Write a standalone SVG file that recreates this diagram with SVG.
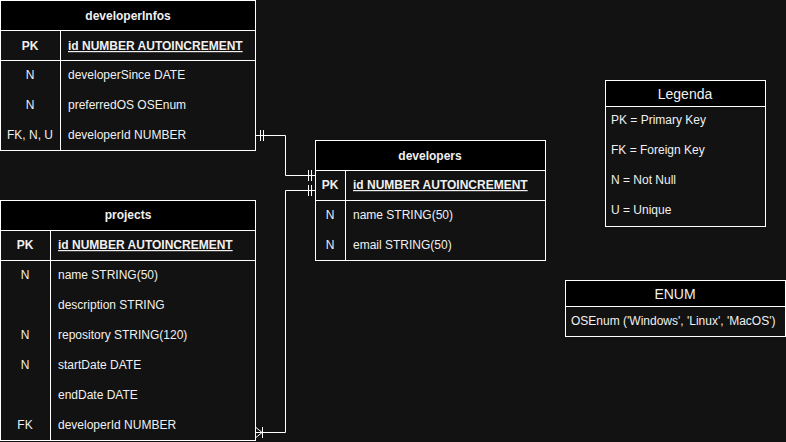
<svg xmlns="http://www.w3.org/2000/svg" width="786" height="442" viewBox="0 0 786 442">
<style>
.box{fill:#121212;stroke:#ffffff;stroke-width:1}
.hdr{fill:#000000;stroke:#ffffff;stroke-width:1}
.ln{stroke:#ffffff;stroke-width:1;fill:none}
.t{font-family:"Liberation Sans",Arial,sans-serif;font-size:12px;fill:#f0f0f0}
.b{font-weight:bold}
.c{text-anchor:middle}
.h{font-family:"Liberation Sans",Arial,sans-serif;font-size:14px;fill:#f0f0f0;text-anchor:middle}
.u{text-decoration:underline}
.con{stroke:#ffffff;stroke-width:1;fill:none}
</style>
<rect width="786" height="442" fill="#121212"/>

<g id="developerInfos">
<rect class="box" x="0.5" y="0.5" width="255" height="150"/>
<rect class="hdr" x="0.5" y="0.5" width="255" height="30"/>
<line class="ln" x1="0.5" y1="60.5" x2="255.5" y2="60.5"/>
<line class="ln" x1="60.5" y1="30.5" x2="60.5" y2="150.5"/>
<text class="t b c" x="128" y="20">developerInfos</text>
<text class="t b c" x="30" y="50">PK</text>
<text class="t b u" x="68" y="50">id NUMBER AUTOINCREMENT</text>
<text class="t c" x="30" y="79">N</text>
<text class="t" x="68" y="79">developerSince DATE</text>
<text class="t c" x="30" y="109">N</text>
<text class="t" x="68" y="109">preferredOS OSEnum</text>
<text class="t c" x="30" y="139">FK, N, U</text>
<text class="t" x="68" y="139">developerId NUMBER</text>
</g>

<g id="developers">
<rect class="box" x="315.5" y="140.5" width="230" height="120"/>
<rect class="hdr" x="315.5" y="140.5" width="230" height="30"/>
<line class="ln" x1="315.5" y1="200.5" x2="545.5" y2="200.5"/>
<line class="ln" x1="345.5" y1="170.5" x2="345.5" y2="260.5"/>
<text class="t b c" x="430" y="160">developers</text>
<text class="t b c" x="330" y="189">PK</text>
<text class="t b u" x="353" y="189">id NUMBER AUTOINCREMENT</text>
<text class="t c" x="330" y="219">N</text>
<text class="t" x="353" y="219">name STRING(50)</text>
<text class="t c" x="330" y="249">N</text>
<text class="t" x="353" y="249">email STRING(50)</text>
</g>

<g id="projects">
<rect class="box" x="0.5" y="200.5" width="255" height="240"/>
<rect class="hdr" x="0.5" y="200.5" width="255" height="30"/>
<line class="ln" x1="0.5" y1="260.5" x2="255.5" y2="260.5"/>
<line class="ln" x1="50.5" y1="230.5" x2="50.5" y2="440.5"/>
<text class="t b c" x="128" y="219">projects</text>
<text class="t b c" x="25" y="249">PK</text>
<text class="t b u" x="58" y="249">id NUMBER AUTOINCREMENT</text>
<text class="t c" x="25" y="279">N</text>
<text class="t" x="58" y="279">name STRING(50)</text>
<text class="t" x="58" y="309">description STRING</text>
<text class="t c" x="25" y="339">N</text>
<text class="t" x="58" y="339">repository STRING(120)</text>
<text class="t c" x="25" y="369">N</text>
<text class="t" x="58" y="369">startDate DATE</text>
<text class="t" x="58" y="399">endDate DATE</text>
<text class="t c" x="25" y="429">FK</text>
<text class="t" x="58" y="429">developerId NUMBER</text>
</g>

<g id="legenda">
<rect class="box" x="605.5" y="80.5" width="160" height="146"/>
<rect class="hdr" x="605.5" y="80.5" width="160" height="26"/>
<text class="h" x="685" y="99">Legenda</text>
<text class="t" x="611" y="124">PK = Primary Key</text>
<text class="t" x="611" y="154">FK = Foreign Key</text>
<text class="t" x="611" y="184">N = Not Null</text>
<text class="t" x="611" y="214">U = Unique</text>
</g>

<g id="enum">
<rect class="box" x="565.5" y="280.5" width="220" height="56"/>
<rect class="hdr" x="565.5" y="280.5" width="220" height="26"/>
<text class="h" x="675" y="299">ENUM</text>
<text class="t" x="571" y="325">OSEnum ('Windows', 'Linux', 'MacOS')</text>
</g>

<g id="connectors">
<path class="con" d="M256 135.5 H285.5 V175.5 H315"/>
<line class="con" x1="260.5" y1="130" x2="260.5" y2="141"/>
<line class="con" x1="263.5" y1="130" x2="263.5" y2="141"/>
<line class="con" x1="308.5" y1="170" x2="308.5" y2="181"/>
<line class="con" x1="311.5" y1="170" x2="311.5" y2="181"/>
<path class="con" d="M256 432.5 H285.5 V190.5 H315"/>
<line class="con" x1="308.5" y1="185" x2="308.5" y2="196"/>
<line class="con" x1="311.5" y1="185" x2="311.5" y2="196"/>
<path class="con" d="M256 427.5 L262 432.5 L256 437.5"/>
<line class="con" x1="262.5" y1="427" x2="262.5" y2="438"/>
</g>
</svg>
